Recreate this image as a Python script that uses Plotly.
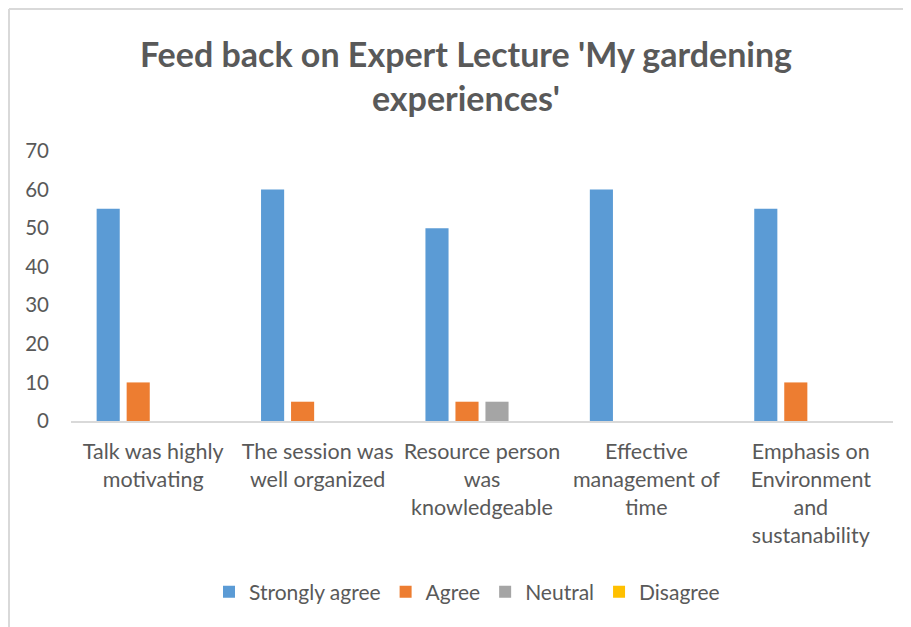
import plotly.graph_objects as go

categories = [
    "Talk was highly<br>motivating",
    "The session was<br>well organized",
    "Resource person<br>was<br>knowledgeable",
    "Effective<br>management of<br>time",
    "Emphasis on<br>Environment<br>and<br>sustanability",
]
strongly_agree = [55, 60, 50, 60, 55]
agree = [10, 5, 5, 0, 10]
neutral = [0, 0, 5, 0, 0]
disagree = [0, 0, 0, 0, 0]
y_ticks = [0, 10, 20, 30, 40, 50, 60, 70]

series = [
    ("Strongly agree", strongly_agree, "#5B9BD5"),
    ("Agree", agree, "#ED7D31"),
    ("Neutral", neutral, "#A5A5A5"),
    ("Disagree", disagree, "#FFC000"),
]

fig = go.Figure()
for name, vals, color in series:
    fig.add_trace(go.Bar(x=categories, y=vals, name=name, marker_color=color,
                         marker_line_width=0))

# page body has an 8px margin; compensate
W, H = 903, 619
L, R, T, B = 63, 18, 143, 206
pw, ph = W - L - R, H - T - B
bx = (1 - L) / pw
by = (H - B - 1) / ph

txt = "#595959"
fig.update_layout(
    width=W, height=H,
    margin=dict(l=L, r=R, t=T, b=B),
    paper_bgcolor="white", plot_bgcolor="white",
    font=dict(family="Lato", color=txt, size=21),
    title=dict(text="<b>Feed back on Expert Lecture 'My gardening<br>experiences'</b>",
               x=(466 - 8) / W, xanchor="center", y=1 - 59 / H, yanchor="middle",
               font=dict(family="Lato", size=34, color=txt)),
    barmode="group", bargap=0.27, bargroupgap=0.23,
    showlegend=True,
    legend=dict(orientation="h", x=(467 - 8 - L) / pw, xanchor="center",
                y=-(584 - (H - B)) / ph, yanchor="middle",
                font=dict(size=21, color=txt), traceorder="normal"),
    xaxis=dict(showline=True, linecolor="#D9D9D9", linewidth=2, ticks="",
               ticklabelstandoff=10,
               tickfont=dict(size=21.5, color=txt), showgrid=False),
    yaxis=dict(range=[0, 70], tickvals=y_ticks, showgrid=False, zeroline=False,
               showline=False, ticks="", ticklabelstandoff=21,
               tickfont=dict(size=20.5, color=txt)),
    shapes=[
        dict(type="line", xref="paper", yref="paper", x0=bx, x1=1.2, y0=by, y1=by,
             line=dict(color="#D9D9D9", width=2)),
        dict(type="line", xref="paper", yref="paper", x0=bx, x1=bx, y0=by, y1=-1,
             line=dict(color="#D9D9D9", width=2)),
    ],
)

fig.write_html("out.html")
